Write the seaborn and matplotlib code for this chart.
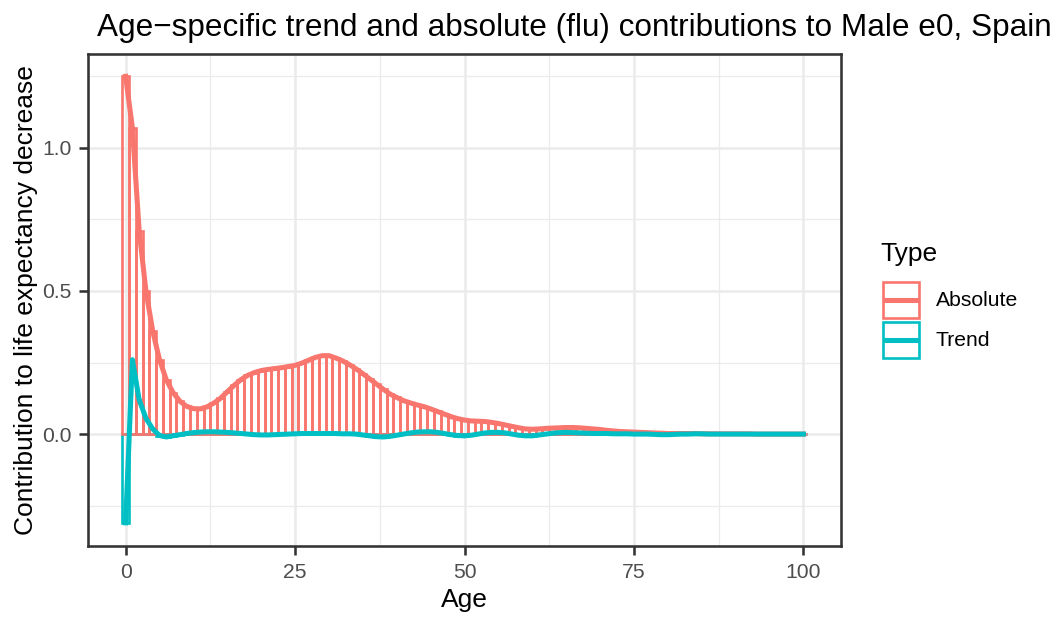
import numpy as np
import pandas as pd
import seaborn as sns
import matplotlib
matplotlib.use("Agg")
import matplotlib.pyplot as plt
from matplotlib.patches import Rectangle
from matplotlib.lines import Line2D

# Age-specific contributions (years of e0) for males, Spain
ages = list(range(0, 101))

absolute = [
    1.25, 1.07, 0.71, 0.50, 0.36, 0.26, 0.19, 0.145, 0.115, 0.097,
    0.089, 0.088, 0.095, 0.108, 0.125, 0.148, 0.170, 0.190, 0.205, 0.215,
    0.222, 0.226, 0.229, 0.232, 0.236, 0.240, 0.248, 0.258, 0.268, 0.274,
    0.274, 0.266, 0.256, 0.243, 0.228, 0.211, 0.193, 0.175, 0.157, 0.140,
    0.128, 0.117, 0.109, 0.102, 0.096, 0.088, 0.079, 0.070, 0.061, 0.054,
    0.049, 0.046, 0.045, 0.044, 0.041, 0.037, 0.032, 0.027, 0.022, 0.018,
    0.017, 0.018, 0.020, 0.021, 0.022, 0.023, 0.023, 0.022, 0.020, 0.018,
    0.016, 0.013, 0.011, 0.009, 0.008, 0.007, 0.006, 0.005, 0.004, 0.003,
    0.002, 0.002, 0.002, 0.002, 0.002, 0.001, 0.001, 0.001, 0.001, 0.001,
    0.001, 0.001, 0.001, 0.000, 0.000, 0.000, 0.000, 0.000, 0.000, 0.000,
    0.000,
]

trend = [
    -0.31, 0.26, 0.12, 0.055, 0.018, -0.005, -0.010, -0.006, -0.002, 0.002,
    0.005, 0.007, 0.008, 0.008, 0.007, 0.006, 0.004, 0.002, 0.000, -0.002,
    -0.003, -0.003, -0.002, -0.001, 0.000, 0.001, 0.002, 0.002, 0.002, 0.002,
    0.002, 0.002, 0.001, 0.001, 0.000, -0.003, -0.006, -0.009, -0.010, -0.008,
    -0.004, 0.000, 0.004, 0.007, 0.008, 0.008, 0.006, 0.002, -0.002, -0.005,
    -0.006, -0.004, 0.000, 0.004, 0.006, 0.006, 0.004, 0.000, -0.004, -0.006,
    -0.006, -0.003, 0.000, 0.003, 0.005, 0.006, 0.005, 0.004, 0.003, 0.002,
    0.002, 0.002, 0.001, 0.001, 0.001, 0.000, 0.000, 0.000, -0.001, -0.002,
    -0.002, -0.001, 0.000, 0.000, 0.001, 0.001, 0.000, 0.000, 0.000, 0.000,
    0.000, 0.000, 0.000, 0.000, 0.000, 0.000, 0.000, 0.000, 0.000, 0.000,
    0.000,
]

types = ["Absolute", "Trend"]
colors = {"Absolute": "#F8766D", "Trend": "#00BFC4"}

df = pd.DataFrame({
    "Age": ages * 2,
    "Contribution": absolute + trend,
    "Type": ["Absolute"] * len(ages) + ["Trend"] * len(ages),
})

plt.rcParams["font.family"] = ["Liberation Sans", "DejaVu Sans"]

DPI = 144
K = 1.2  # text / line scale
fig = plt.figure(figsize=(1056 / DPI, 617 / DPI), dpi=DPI)
ax = fig.add_axes([88 / 1056, 1 - 546 / 617, (841 - 88) / 1056, (546 - 54) / 617])

grid_c = "#EBEBEB"
ax.set_facecolor("white")

# outlined columns, one per single year of age (Trend beneath Absolute)
for t in ["Trend", "Absolute"]:
    sub = df[df["Type"] == t]
    ax.bar(sub["Age"], sub["Contribution"], width=1.0, facecolor="none",
           edgecolor=colors[t], linewidth=1.1 * K, zorder=2)

sns.lineplot(data=df, x="Age", y="Contribution", hue="Type", hue_order=types,
             palette=colors, linewidth=2.1 * K, legend=False, ax=ax, zorder=3,
             estimator=None, sort=True)

ax.set_xlim(-5.55, 105.55)
ax.set_ylim(-0.391, 1.328)

ax.set_xticks([0, 25, 50, 75, 100])
ax.set_xticks([12.5, 37.5, 62.5, 87.5], minor=True)
ax.set_yticks([0.0, 0.5, 1.0])
ax.set_yticks([-0.25, 0.25, 0.75, 1.25], minor=True)
ax.set_yticklabels(["0.0", "0.5", "1.0"])

ax.grid(which="major", color=grid_c, linewidth=1.07 * K, zorder=0)
ax.grid(which="minor", color=grid_c, linewidth=0.53 * K, zorder=0)
ax.set_axisbelow(True)

for s in ax.spines.values():
    s.set_color("#333333")
    s.set_linewidth(1.07 * K)

ax.tick_params(which="major", length=3.9 * K, width=1.07 * K, color="#333333",
               labelsize=8.8 * K, labelcolor="#4D4D4D", pad=3 * K)
ax.tick_params(which="minor", length=0)

ax.set_xlabel("Age", fontsize=11 * K, color="black", labelpad=3)
ax.set_ylabel("Contribution to life expectancy decrease", fontsize=11 * K,
              color="black", labelpad=2)

fig.text(97 / 1056, 1 - 28 / 617,
         "Age\u2212specific trend and absolute (flu) contributions to Male e0, Spain",
         fontsize=15.75, ha="left", va="center", color="black")

# legend: outlined key boxes with a line through the middle
W, H = 1056, 617
fig.text(880 / W, 1 - 254 / H, "Type", fontsize=11 * K, ha="left", va="center")
for i, t in enumerate(types):
    cy = 300 + 40 * i
    fig.add_artist(Rectangle((883 / W, 1 - (cy + 18) / H), 36 / W, 36 / H,
                             transform=fig.transFigure, facecolor="white",
                             edgecolor=colors[t], linewidth=1.1 * K))
    fig.add_artist(Line2D([886 / W, 917 / W], [1 - cy / H, 1 - cy / H],
                          transform=fig.transFigure, color=colors[t],
                          linewidth=2.1 * K))
    fig.text(936 / W, 1 - cy / H, t, fontsize=8.8 * K, ha="left", va="center")

fig.savefig("out.png", dpi=DPI)
